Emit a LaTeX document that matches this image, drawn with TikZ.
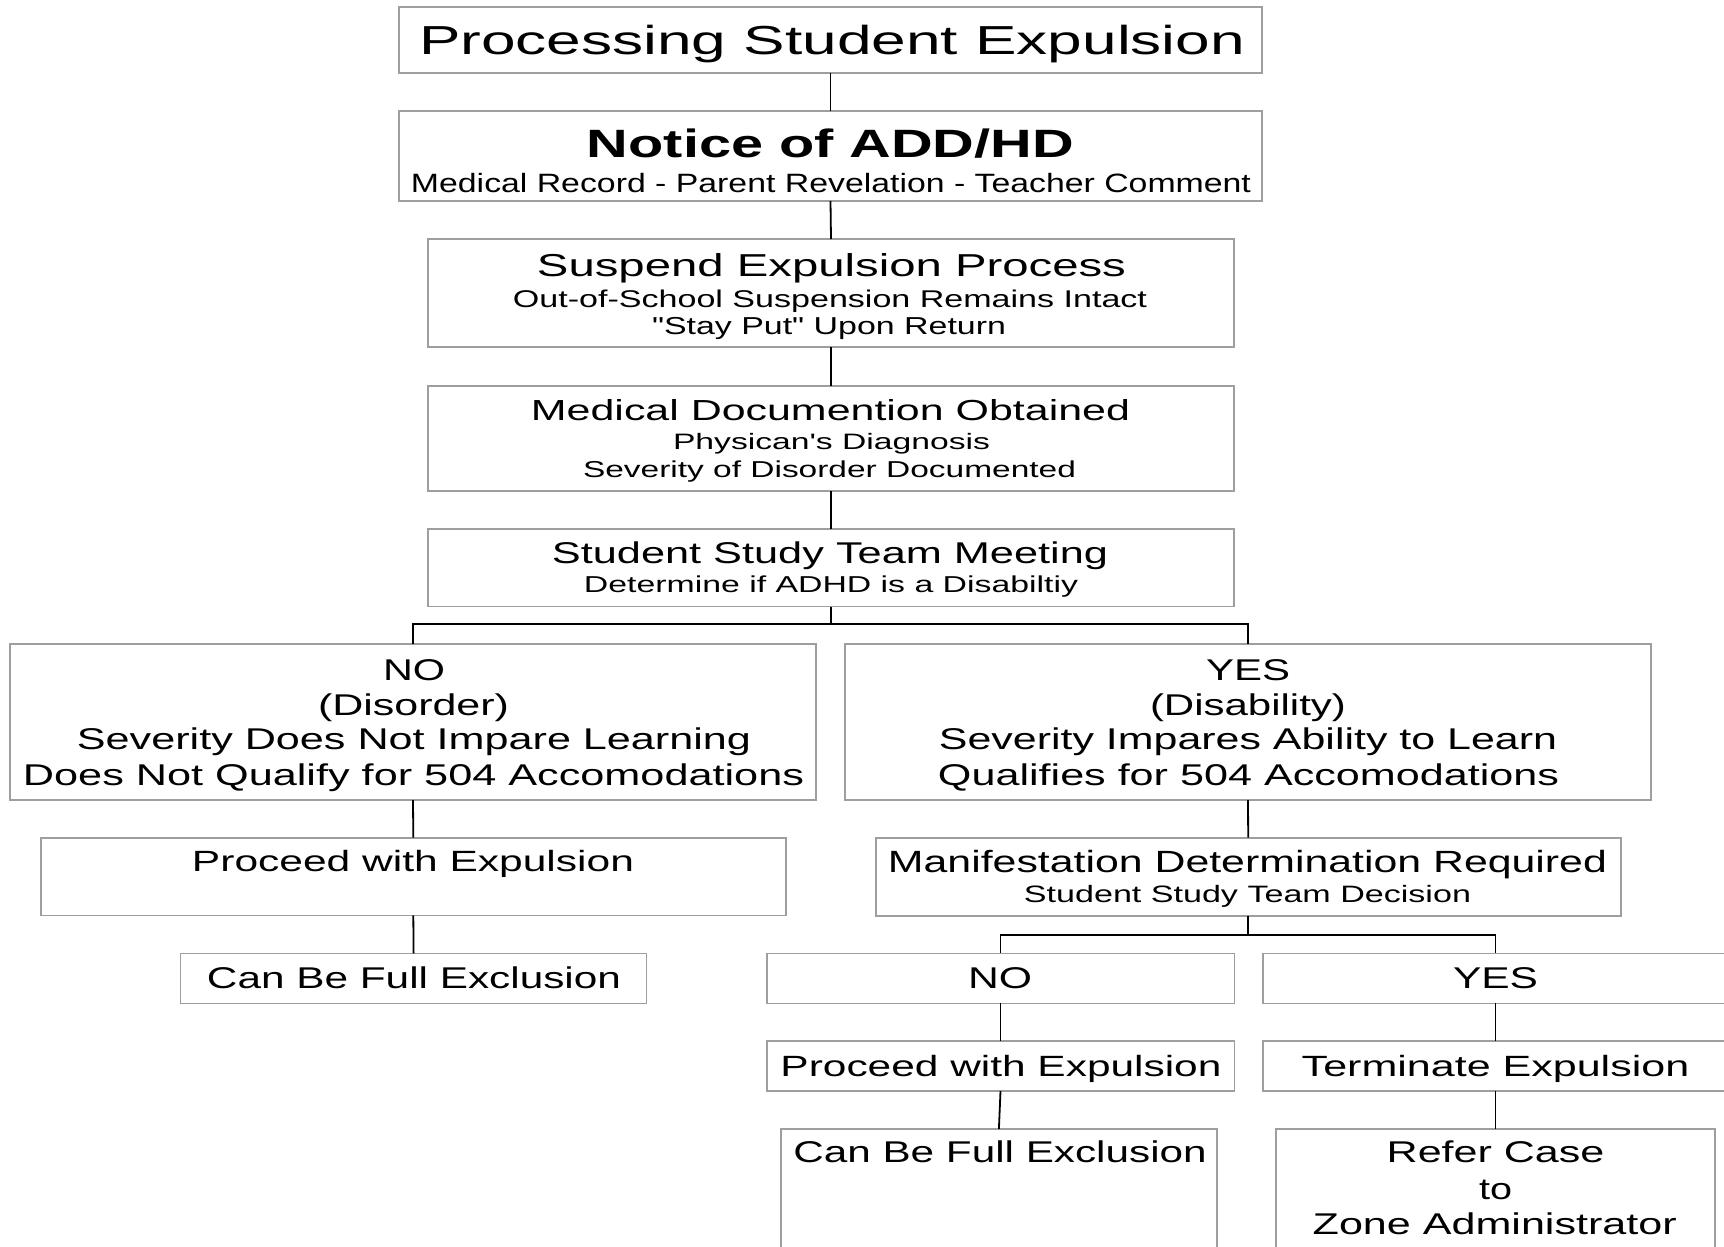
\documentclass[tikz,border=0pt]{standalone}
\usepackage{fontspec}
\usepackage{graphicx}
\setmainfont{Liberation Sans}
% same family without TeX quote ligatures, so " and ' stay straight
\newfontfamily\plainsans{Liberation Sans}

% one text line at a given size, stretched horizontally to a given width (pt)
\newcommand{\fitline}[3]{\resizebox{#1pt}{\height}{\plainsans\fontsize{#2pt}{#2pt}\selectfont #3}}

\tikzset{
  flowbox/.style={draw=black!38, line width=1.6pt, inner sep=0pt, outer sep=0pt, fill=none},
  linetext/.style={anchor=base, inner sep=0pt, outer sep=0pt},
  link/.style={draw=black, line width=1.8pt}
}

\begin{document}
\begin{tikzpicture}[x=1pt,y=-1pt]
\fill[white] (0,0) rectangle (1724,1247);
\clip (0,0) rectangle (1724,1247);

% ---------- boxes ----------
\node[flowbox, minimum width=863pt, minimum height=66pt]   (title)    at (830.5,40)    {};
\node[flowbox, minimum width=863pt, minimum height=90pt]   (notice)   at (830.5,156)   {};
\node[flowbox, minimum width=806pt, minimum height=108pt]  (suspend)  at (831,293)     {};
\node[flowbox, minimum width=806pt, minimum height=105pt]  (meddoc)   at (831,438.3)   {};
\node[flowbox, minimum width=806pt, minimum height=77.7pt] (sst)      at (831,567.8)   {};
\node[flowbox, minimum width=806pt, minimum height=156pt]  (disorder) at (413,722)     {};
\node[flowbox, minimum width=806pt, minimum height=156pt]  (disab)    at (1248,722)    {};
\node[flowbox, minimum width=745pt, minimum height=77.6pt] (procL)    at (413.3,876.5) {};
\node[flowbox, minimum width=466pt, minimum height=50pt]   (exclL)    at (413.6,978.3) {};
\node[flowbox, minimum width=745pt, minimum height=78pt]   (manif)    at (1248.2,876.7){};
\node[flowbox, minimum width=467.6pt, minimum height=50pt] (noM)      at (1000.5,978.3){};
\node[flowbox, minimum width=465.6pt, minimum height=50pt] (yesM)     at (1495.5,978.3){};
\node[flowbox, minimum width=467.6pt, minimum height=50pt] (procR)    at (1000.5,1066) {};
\node[flowbox, minimum width=465.6pt, minimum height=50pt] (term)     at (1495.5,1066) {};
\node[flowbox, minimum width=436.3pt, minimum height=161pt](exclR)    at (998.9,1209.5){};
\node[flowbox, minimum width=439pt, minimum height=161pt]  (refer)    at (1495.5,1209.5){};

% ---------- connectors ----------
\draw[link] (title.south) -- (notice.north);
\draw[link] (notice.south) -- (suspend.north);
\draw[link] (suspend.south) -- (meddoc.north);
\draw[link] (meddoc.south) -- (sst.north);
\path (sst.south) ++(0,17.6) coordinate (split1);
\draw[link] (sst.south) -- (split1);
\draw[link] (disorder.north) |- (split1) -| (disab.north);
\draw[link] (disorder.south) -- (procL.north);
\draw[link] (procL.south) -- (exclL.north);
\draw[link] (disab.south) -- (manif.north);
\path (manif.south) ++(0,19.3) coordinate (split2);
\draw[link] (manif.south) -- (split2);
\draw[link] (noM.north) |- (split2) -| (yesM.north);
\draw[link] (noM.south) -- (procR.north);
\draw[link] (procR.south) -- (exclR.north);
\draw[link] (yesM.south) -- (term.north);
\draw[link] (term.south) -- (refer.north);

% ---------- texts ----------
\node[linetext] (title-t) at (832,55) {\fitline{826}{40.5}{Processing Student Expulsion}};

\node[linetext] (notice-t1) at (830.5,157) {\fitline{487}{39.5}{\bfseries Notice of ADD/HD}};
\node[linetext] (notice-t2) at (831,192.5) {\fitline{840}{26.5}{Medical Record - Parent Revelation - Teacher Comment}};

\node[linetext] (suspend-t1) at (831.5,276)   {\fitline{589}{31.7}{Suspend Expulsion Process}};
\node[linetext] (suspend-t2) at (830,307.3)   {\fitline{634}{24.2}{Out-of-School Suspension Remains Intact}};
\node[linetext] (suspend-t3) at (829,334.3)   {\fitline{354}{24.5}{"Stay Put" Upon Return}};

\node[linetext] (meddoc-t1) at (830.5,420)    {\fitline{599}{29}{Medical Documention Obtained}};
\node[linetext] (meddoc-t2) at (831.5,449.3)  {\fitline{317}{22.3}{Physican's Diagnosis}};
\node[linetext] (meddoc-t3) at (829.5,477.3)  {\fitline{493}{23}{Severity of Disorder Documented}};

\node[linetext] (sst-t1) at (830,563.3)       {\fitline{556}{30}{Student Study Team Meeting}};
\node[linetext] (sst-t2) at (831,592.7)       {\fitline{494}{23}{Determine if ADHD is a Disabiltiy}};

\node[linetext] (disorder-t1) at (414,680)    {\fitline{62}{30}{NO}};
\node[linetext] (disorder-t2) at (413.5,715)  {\fitline{191}{30}{(Disorder)}};
\node[linetext] (disorder-t3) at (414,749.3)  {\fitline{674}{30}{Severity Does Not Impare Learning}};
\node[linetext] (disorder-t4) at (413.5,785)  {\fitline{781}{30}{Does Not Qualify for 504 Accomodations}};

\node[linetext] (disab-t1) at (1248,680)      {\fitline{84}{30}{YES}};
\node[linetext] (disab-t2) at (1248,715)      {\fitline{196}{30}{(Disability)}};
\node[linetext] (disab-t3) at (1248,749.3)    {\fitline{618}{30}{Severity Impares Ability to Learn}};
\node[linetext] (disab-t4) at (1248.5,785)    {\fitline{621}{30}{Qualifies for 504 Accomodations}};

\node[linetext] (procL-t) at (413,871.7)      {\fitline{442}{29.3}{Proceed with Expulsion}};
\node[linetext] (exclL-t) at (414,988.3)      {\fitline{414}{30}{Can Be Full Exclusion}};

\node[linetext] (manif-t1) at (1247.5,872.7)  {\fitline{719}{30.7}{Manifestation Determination Required}};
\node[linetext] (manif-t2) at (1247.5,902)    {\fitline{447}{23.7}{Student Study Team Decision}};

\node[linetext] (noM-t)  at (1000,988.3)      {\fitline{64}{30}{NO}};
\node[linetext] (yesM-t) at (1495.5,988.3)    {\fitline{85}{30}{YES}};
\node[linetext] (procR-t) at (1001,1076)      {\fitline{441}{29.3}{Proceed with Expulsion}};
\node[linetext] (term-t) at (1495.5,1076)     {\fitline{387.6}{29.3}{Terminate Expulsion}};
\node[linetext] (exclR-t) at (1000,1162.7)    {\fitline{413.4}{30}{Can Be Full Exclusion}};

\node[linetext] (refer-t1) at (1495.5,1162.7) {\fitline{217.6}{30}{Refer Case}};
\node[linetext] (refer-t2) at (1495.5,1199.3) {\fitline{33}{30}{to}};
\node[linetext] (refer-t3) at (1494.7,1234)   {\fitline{364}{30}{Zone Administrator}};
\end{tikzpicture}
\end{document}
